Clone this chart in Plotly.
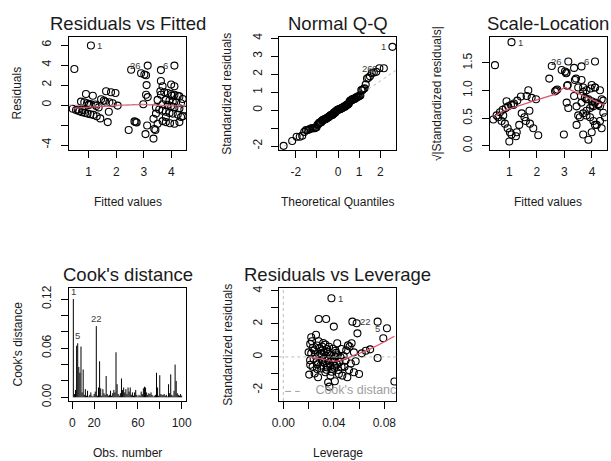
import numpy as np
import plotly.graph_objects as go
from statistics import NormalDist

# ---------------------------------------------------------------- data
# fitted values and raw residuals of the linear model (one entry per observation)
fitted = [
    0.48, 1.08, 0.90, 1.15, 0.72, 0.84, 0.94, 1.02, 1.08, 1.27, 1.36, 0.42, 0.54,
    0.66, 0.76, 0.87, 0.96, 1.06, 1.17, 1.29, 1.42, 1.00, 1.24, 0.78, 0.60,
    1.45, 1.63, 1.81, 1.97, 1.60, 1.75, 1.87, 2.05, 1.73, 1.69, 1.55,
    2.45, 2.54, 2.90, 3.14, 3.08, 3.10, 3.08, 3.14, 2.98, 2.66, 2.74, 2.70, 3.12,
    3.06, 3.35, 3.38, 3.42, 3.35, 3.02,
    3.62, 4.11, 3.62, 3.68, 3.62, 3.50, 3.44, 3.44, 3.60, 3.74, 3.87, 3.99, 4.11,
    4.23, 4.29, 3.99, 4.11, 3.80, 3.93, 4.05, 4.17, 4.35, 3.68, 3.87, 3.99, 4.11,
    4.29, 4.47, 3.56, 3.68, 3.80, 3.93, 4.05, 4.23, 4.41, 3.68, 3.80, 3.95, 4.11,
    3.50, 4.35, 3.80, 4.02, 4.29, 4.41,
]
residuals = [
    3.60, 5.95, 1.10, 0.92, 0.34, 0.27, 0.17, 0.10, 0.07, -0.10, -0.24, -0.38, -0.51,
    -0.62, -0.72, -0.79, -0.86, -0.92, -0.99, -1.13, -1.34, 0.01, 0.05, -0.51, -0.45,
    0.58, 1.37, 1.27, 1.20, 0.34, 0.27, 0.17, -0.06, -0.68, -1.71, 0.45,
    -2.50, 3.53, 3.18, 3.94, 2.98, 1.99, 1.03, 0.79, 0.07, -1.64, -1.75, -1.70, -2.05,
    -2.91, -1.37, -2.40, -2.50, -3.36, 3.05,
    3.49, 3.94, 2.40, 1.88, 1.03, 0.51, -0.24, -0.86, 1.37, 1.27, 1.20, 1.10, 1.03,
    0.92, 0.86, 2.05, 1.88, 0.51, 0.45, 0.34, 0.24, 0.17, 0.07, 0.02, -0.10, -0.24,
    -0.34, -0.45, -0.45, -0.58, -0.68, -0.79, -0.86, -0.96, -1.13, -1.61, -1.71, -1.82, -1.88,
    -1.88, -1.20, -1.20, 0.92, -1.71, 0.60,
]
obs_ids = {1: "1", 39: "26", 56: "6"}   # list position (0-based) -> observation label
resid_scale = 1.69                        # residual standard error x sqrt(1 - h)

# lowess smooths
rf_smooth_x = [0.42, 0.90, 1.99, 2.96, 3.56, 4.47]
rf_smooth_y = [-0.34, -0.24, -0.07, 0.07, -0.03, -0.10]
sl_smooth_x = [0.42, 0.89, 2.00, 2.65, 3.00, 3.35, 3.85, 4.47]
sl_smooth_y = [0.53, 0.65, 0.83, 0.93, 1.06, 0.98, 0.86, 0.73]

# Cook's distance by observation number
cooks = [
    0.120, 0.004, 0.009, 0.063, 0.066, 0.037, 0.030, 0.062, 0.006, 0.034,
    0.003, 0.010, 0.002, 0.008, 0.001, 0.003, 0.006, 0.002, 0.001, 0.004,
    0.007, 0.087, 0.002, 0.012, 0.044, 0.011, 0.002, 0.010, 0.005, 0.003,
    0.026, 0.004, 0.002, 0.003, 0.008, 0.002, 0.005, 0.009, 0.006, 0.055,
    0.016, 0.004, 0.002, 0.005, 0.023, 0.009, 0.012, 0.006, 0.010, 0.004,
    0.012, 0.007, 0.012, 0.003, 0.006, 0.002, 0.006, 0.009, 0.003, 0.001,
    0.003, 0.002, 0.007, 0.004, 0.011, 0.013, 0.012, 0.006, 0.003, 0.005,
    0.004, 0.006, 0.003, 0.001, 0.002, 0.003, 0.030, 0.012, 0.002, 0.027,
    0.004, 0.003, 0.003, 0.004, 0.002, 0.003, 0.001, 0.016, 0.005, 0.028,
    0.003, 0.002, 0.008, 0.040, 0.020, 0.005, 0.003, 0.002, 0.004, 0.002,
]
cook_ids = [1, 22, 5]

# leverage vs standardized residuals
leverage = [
    0.0381, 0.0280, 0.0339, 0.0400, 0.0547, 0.0581, 0.0747, 0.0821, 0.0587, 0.0792,
    0.0880, 0.0747, 0.0688, 0.0621, 0.0653,
    0.0221, 0.0259, 0.0213, 0.0232, 0.0221, 0.0280, 0.0267, 0.0307, 0.0333, 0.0347,
    0.0320, 0.0360, 0.0285, 0.0240, 0.0213, 0.0205, 0.0248, 0.0275, 0.0293, 0.0328,
    0.0347, 0.0365, 0.0387, 0.0408, 0.0435, 0.0461, 0.0440, 0.0467, 0.0355, 0.0365,
    0.0408, 0.0427, 0.0413, 0.0453, 0.0493, 0.0525, 0.0541, 0.0559, 0.0520, 0.0559,
    0.0600, 0.0573, 0.0507, 0.0461, 0.0387, 0.0307, 0.0267, 0.0232, 0.0333, 0.0373,
    0.0413, 0.0200, 0.0301,
    0.0227, 0.0245, 0.0253, 0.0262, 0.0270, 0.0288, 0.0295, 0.0300, 0.0312, 0.0316,
    0.0325, 0.0338, 0.0342, 0.0350, 0.0355, 0.0362, 0.0370, 0.0378, 0.0383, 0.0392,
    0.0398, 0.0405, 0.0418, 0.0425, 0.0432, 0.0445, 0.0478, 0.0485, 0.0498, 0.0512,
    0.0535, 0.0212,
]
lev_std_resid = [
    3.56, 2.30, 2.30, 1.84, 2.14, 2.04, 2.14, 1.74, 1.43, 1.13,
    -1.49, -0.06, 0.46, 0.22, 0.38,
    1.19, 1.35, 0.79, 0.55, 0.22, 0.95, 0.69, 0.63, 0.75, 0.48,
    0.28, 0.18, 0.08, -0.12, -0.48, -1.07, -1.00, -1.23, -0.53, -0.38,
    -0.63, -0.42, -0.73, -0.53, -0.79, -0.59, -1.03, -1.13, -1.54, -1.80,
    -1.47, 0.83, 0.38, -0.02, -0.22, 0.63, 0.83, 0.28, -0.79, -0.93,
    -1.03, -0.26, -1.23, 0.48, -0.12, -0.18, -0.73, -0.59, -0.93, -1.13,
    0.02, 0.28, 0.38,
    0.95, 0.40, 0.10, -0.30, -0.45, 0.52, 0.20, -0.70, -0.30, 0.85,
    -0.10, 0.05, -0.78, 0.30, -0.20, 0.62, -0.55, 0.10, -0.90, 0.50,
    -0.30, -0.65, 0.25, -0.45, 0.10, -0.30, 0.05, -0.60, 0.40, 0.70,
    -0.40, -0.20,
]
lev_ids = {0: "1", 6: "22", 7: "5"}
rl_smooth_x = [0.0205, 0.0307, 0.0400, 0.0467, 0.0573, 0.0707, 0.0880]
rl_smooth_y = [-0.02, -0.12, -0.26, -0.18, 0.14, 0.55, 1.25]

# ---------------------------------------------------------------- derived
std_resid = np.array(residuals) / resid_scale
sqrt_abs_std = np.sqrt(np.abs(std_resid))
n = len(std_resid)
order = np.argsort(std_resid)
nd = NormalDist()
theo_q = np.array([nd.inv_cdf((i + 0.5) / n) for i in range(n)])
sample_q = std_resid[order]
q1, q3 = np.quantile(std_resid, [0.25, 0.75])
z1, z3 = nd.inv_cdf(0.25), nd.inv_cdf(0.75)
qq_slope = (q3 - q1) / (z3 - z1)
qq_int = q1 - qq_slope * z1

# ---------------------------------------------------------------- layout helpers
W, H = 611, 461
FONT = "Liberation Sans, Arial, Helvetica, sans-serif"
INK = "#1a1a1a"
RED = "#DF536B"
GREY = "#BEBEBE"
frames = {  # left, right, top, bottom (px)
    1: (69.0, 186.0, 37.0, 150.0),
    2: (279.3, 396.3, 37.0, 150.0),
    3: (489.6, 606.6, 37.0, 150.0),
    4: (69.0, 186.0, 288.0, 401.0),
    5: (279.3, 396.3, 288.0, 401.0),
}

fig = go.Figure()


def sfx(k):
    return "" if k == 1 else str(k)


def setup_axes(k, xr, xt, xtt, yr, yt, ytt):
    l, r, t, b = frames[k]
    common = dict(showline=True, linecolor="black", linewidth=1, mirror=True,
                  ticks="outside", ticklen=7, tickwidth=1, tickcolor="black",
                  showgrid=False, zeroline=False, automargin=False,
                  tickfont=dict(family=FONT, size=12, color=INK))
    fig.layout["xaxis" + sfx(k)] = dict(domain=[l / W, r / W], range=xr,
                                        anchor="y" + sfx(k), tickmode="array",
                                        tickvals=xt, ticktext=xtt,
                                        ticklabelstandoff=4, **common)
    fig.layout["yaxis" + sfx(k)] = dict(domain=[1 - b / H, 1 - t / H], range=yr,
                                        anchor="x" + sfx(k), tickmode="array",
                                        tickvals=yt, ticktext=ytt, tickangle=-90,
                                        ticklabelstandoff=5, **common)


def panel_text(k, title, xlabel, ylabel):
    l, r, t, b = frames[k]
    cx = (l + r) / 2
    cy = (t + b) / 2
    anns = [
        dict(text=title, x=cx / W, y=1 - (t - 14) / H, font=dict(size=18.5)),
        dict(text=xlabel, x=cx / W, y=1 - (b + 52) / H, font=dict(size=12)),
        dict(text=ylabel, x=(l - 52) / W, y=1 - cy / H, font=dict(size=12), textangle=-90),
    ]
    for a in anns:
        a.update(xref="paper", yref="paper", showarrow=False,
                 xanchor="center", yanchor="middle")
        a["font"].update(family=FONT, color=INK)
        fig.add_annotation(**a)


def point_label(k, x, y, text, side):
    fig.add_annotation(x=x, y=y, xref="x" + sfx(k), yref="y" + sfx(k), text=text,
                       showarrow=False, xanchor="left" if side == "r" else "right",
                       xshift=4.5 if side == "r" else -4.5, yanchor="middle",
                       font=dict(family=FONT, size=9.5, color="#3a3a3a"))


marker = dict(symbol="circle-open", size=7, color="black", line=dict(width=1.1))

# ---------------------------------------------------------------- 1: Residuals vs Fitted
setup_axes(1, [0.285, 4.53], [1, 2, 3, 4], ["1", "2", "3", "4"],
           [-4.5, 6.8], [-4, -2, 0, 2, 4, 6], ["-4", "", "0", "2", "4", "6"])
fig.add_shape(type="line", xref="x domain", yref="y", x0=0, x1=1, y0=0, y1=0,
              line=dict(color=GREY, width=1, dash="dot"))
fig.add_trace(go.Scatter(x=fitted, y=residuals, mode="markers", marker=marker,
                         xaxis="x", yaxis="y"))
fig.add_trace(go.Scatter(x=rf_smooth_x, y=rf_smooth_y, mode="lines",
                         line=dict(color=RED, width=1.2, shape="spline"),
                         xaxis="x", yaxis="y"))
for i, lab in obs_ids.items():
    point_label(1, fitted[i], residuals[i], lab, "r" if fitted[i] < 2.4 else "l")
panel_text(1, "Residuals vs Fitted", "Fitted values", "Residuals")

# ---------------------------------------------------------------- 2: Normal Q-Q
setup_axes(2, [-2.78, 2.76], [-2, -1, 0, 1, 2], ["-2", "", "0", "1", "2"],
           [-2.22, 4.07], [-2, -1, 0, 1, 2, 3, 4], ["-2", "", "0", "1", "2", "3", "4"])
qx = np.array([-2.78, 2.76])
fig.add_trace(go.Scatter(x=qx, y=qq_int + qq_slope * qx, mode="lines",
                         line=dict(color=GREY, width=1, dash="dot"),
                         xaxis="x2", yaxis="y2"))
fig.add_trace(go.Scatter(x=theo_q, y=sample_q, mode="markers", marker=marker,
                         xaxis="x2", yaxis="y2"))
rank = {int(o): j for j, o in enumerate(order)}
for i, lab in obs_ids.items():
    j = rank[i]
    point_label(2, theo_q[j], sample_q[j], lab, "l")
panel_text(2, "Normal Q-Q", "Theoretical Quantiles", "Standardized residuals")

# ---------------------------------------------------------------- 3: Scale-Location
setup_axes(3, [0.285, 4.53], [1, 2, 3, 4], ["1", "2", "3", "4"],
           [-0.078, 1.97], [0, 0.5, 1.0, 1.5], ["0.0", "0.5", "1.0", "1.5"])
fig.add_trace(go.Scatter(x=fitted, y=sqrt_abs_std, mode="markers", marker=marker,
                         xaxis="x3", yaxis="y3"))
fig.add_trace(go.Scatter(x=sl_smooth_x, y=sl_smooth_y, mode="lines",
                         line=dict(color=RED, width=1.2),
                         xaxis="x3", yaxis="y3"))
for i, lab in obs_ids.items():
    point_label(3, fitted[i], sqrt_abs_std[i], lab, "r" if fitted[i] < 2.4 else "l")
panel_text(3, "Scale-Location", "Fitted values", "\u221a|Standardized residuals|")

# ---------------------------------------------------------------- 4: Cook's distance
obs = np.arange(1, len(cooks) + 1)
seg_x, seg_y = [], []
for o, c in zip(obs, cooks):
    seg_x += [int(o), int(o), None]
    seg_y += [0, c, None]
setup_axes(4, [-2.96, 103.96], [0, 20, 40, 60, 80, 100], ["0", "20", "", "60", "", "100"],
           [-0.0045, 0.1335], [0, 0.02, 0.04, 0.06, 0.08, 0.10, 0.12],
           ["0.00", "", "", "0.06", "", "", "0.12"])
fig.add_trace(go.Scatter(x=seg_x, y=seg_y, mode="lines",
                         line=dict(color="black", width=1),
                         xaxis="x4", yaxis="y4"))
for o in cook_ids:
    fig.add_annotation(x=o, y=cooks[o - 1], xref="x4", yref="y4", text=str(o),
                       showarrow=False, yanchor="bottom", xanchor="center", yshift=0,
                       font=dict(family=FONT, size=9.5, color="#3a3a3a"))
panel_text(4, "Cook's distance", "Obs. number", "Cook's distance")

# ---------------------------------------------------------------- 5: Residuals vs Leverage
setup_axes(5, [-0.0032, 0.0895], [0, 0.02, 0.04, 0.06, 0.08],
           ["0.00", "", "0.04", "", "0.08"],
           [-2.67, 4.18], [-2, -1, 0, 1, 2, 3, 4], ["-2", "", "0", "", "2", "", "4"])
fig.add_shape(type="line", xref="x5 domain", yref="y5", x0=0, x1=1, y0=0, y1=0,
              line=dict(color=GREY, width=1, dash="dot"))
fig.add_shape(type="line", xref="x5", yref="y5 domain", x0=0, x1=0, y0=0, y1=1,
              line=dict(color=GREY, width=1, dash="dot"))
fig.add_trace(go.Scatter(x=leverage, y=lev_std_resid, mode="markers", marker=marker,
                         xaxis="x5", yaxis="y5"))
fig.add_trace(go.Scatter(x=rl_smooth_x, y=rl_smooth_y, mode="lines",
                         line=dict(color=RED, width=1.2, shape="spline"),
                         xaxis="x5", yaxis="y5"))
for i, lab in lev_ids.items():
    point_label(5, leverage[i], lev_std_resid[i], lab, "r" if leverage[i] < 0.043 else "l")
# legend for the Cook's distance contours
fig.add_shape(type="line", xref="x5 domain", yref="y5 domain", x0=0.05, x1=0.175,
              y0=0.085, y1=0.085, line=dict(color="#9E9E9E", width=1, dash="6px,4px"))
fig.add_trace(go.Scatter(x=[0.0254], y=[-2.08], mode="text", text=["Cook's distance"],
                         textposition="middle right", cliponaxis=True,
                         textfont=dict(family=FONT, size=12.5, color="#9E9E9E"),
                         xaxis="x5", yaxis="y5"))
panel_text(5, "Residuals vs Leverage", "Leverage", "Standardized residuals")

fig.update_layout(template="none", width=W, height=H,
                  margin=dict(l=0, r=0, t=0, b=0, autoexpand=False),
                  paper_bgcolor="white", plot_bgcolor="white", showlegend=False,
                  font=dict(family=FONT, color=INK))
fig.write_html("out.html")
